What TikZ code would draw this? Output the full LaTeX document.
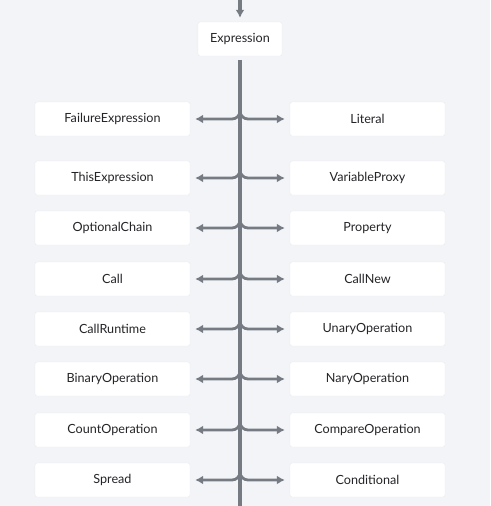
\documentclass[tikz,border=0pt]{standalone}
\usepackage{fontspec}
\setmainfont{Lato}
\usepackage{xcolor}
\usepackage{tikz}
\usetikzlibrary{arrows.meta,positioning,calc}
\definecolor{astbg}{RGB}{242,244,247}
\definecolor{astline}{RGB}{118,123,131}
\definecolor{asttext}{RGB}{36,36,40}

\begin{document}
\begin{tikzpicture}[x=1pt, y=-1pt, >={Latex[length=8pt,width=9pt]},
    astnode/.style={rectangle, rounded corners=2pt, fill=white, draw=astbg!96!black, line width=0.4pt, text=asttext, minimum width=155pt, minimum height=34pt, font=\fontsize{12.6}{14}\selectfont},
    trunk/.style={draw=astline, line width=3.2pt},
    branch/.style={draw=astline, line width=2.8pt, ->, rounded corners=8pt, shorten >=5pt}]
    \fill [astbg] (0,0) rectangle (490,506);
    \useasboundingbox (0,0) rectangle (490,506);

    \node [astnode, minimum width=84pt] (expr) at (240,39) {Expression};
    \coordinate (top) at (240,0);
    \coordinate (bottom) at (240,506);

    \draw [trunk, ->, shorten >=4pt] (top) -- (expr);
    \draw [trunk, shorten <=4pt] (expr.south) -- (bottom);

    % one row of children per line: left / right / y
    \foreach \l/\r/\y [count=\i] in {FailureExpression/Literal/119,
            ThisExpression/VariableProxy/178,
            OptionalChain/Property/228,
            Call/CallNew/279,
            CallRuntime/UnaryOperation/329,
            BinaryOperation/NaryOperation/379,
            CountOperation/CompareOperation/430,
            Spread/Conditional/480} {
        \node [astnode] (l\i) at (112.5,\y) {\l};
        \node [astnode] (r\i) at (367.5,\y) {\r};
        \coordinate (j\i) at (240,\y-8);
        \draw [branch] (j\i) |- (l\i);
        \draw [branch] (j\i) |- (r\i);
    }
\end{tikzpicture}
\end{document}
